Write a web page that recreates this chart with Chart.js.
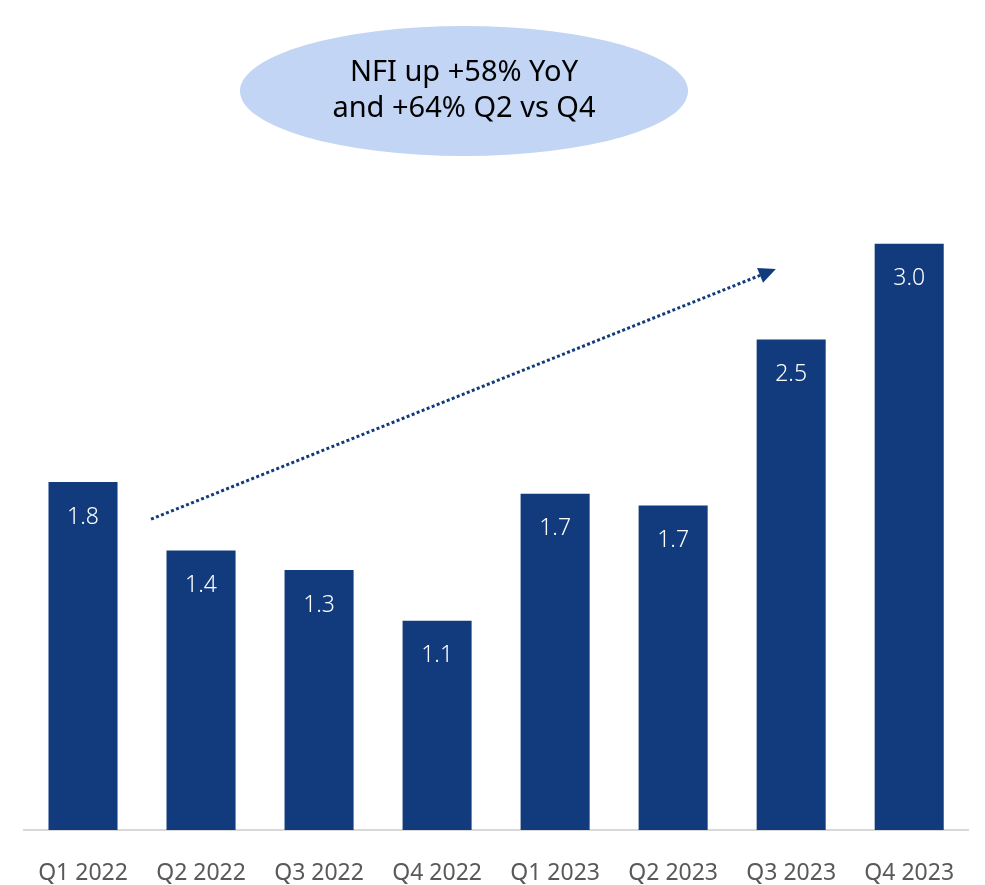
<!DOCTYPE html>
<html>
<head>
<meta charset="utf-8">
<script src="https://cdn.jsdelivr.net/npm/chart.js@4"></script>
<style>
  html, body { margin: 0; padding: 0; background: #fff; }
  #wrap { width: 985px; height: 885px; }
</style>
</head>
<body>
<div id="wrap"><canvas id="nfi"></canvas></div>
<script>
const quarters = ["Q1 2022", "Q2 2022", "Q3 2022", "Q4 2022", "Q1 2023", "Q2 2023", "Q3 2023", "Q4 2023"];
const nfiValues = [1.78, 1.43, 1.33, 1.07, 1.72, 1.66, 2.51, 3.0];
const calloutLines = ["NFI up +58% YoY", "and +64% Q2 vs Q4"];
// trend arrow from / to, in (category index, value)
const arrowFrom = [0.576, 1.59];
const arrowTo = [5.87, 2.87];

const barColor = "#123b7e";
const fontFamily = "'Noto Sans', 'Open Sans', sans-serif";

const annotations = {
  id: "annotations",
  afterDatasetsDraw(chart) {
    const ctx = chart.ctx;
    const xs = chart.scales.x, ys = chart.scales.y;
    const meta = chart.getDatasetMeta(0);

    // value labels inside bars
    ctx.save();
    ctx.fillStyle = "#ffffff";
    ctx.font = "300 23px " + fontFamily;
    ctx.textAlign = "center";
    ctx.textBaseline = "middle";
    meta.data.forEach((bar, i) => {
      ctx.fillText(nfiValues[i].toFixed(1), bar.x, bar.y + 35);
    });
    ctx.restore();

    // dotted trend arrow
    const x1 = xs.getPixelForValue(arrowFrom[0]), y1 = ys.getPixelForValue(arrowFrom[1]);
    const x2 = xs.getPixelForValue(arrowTo[0]), y2 = ys.getPixelForValue(arrowTo[1]);
    const ang = Math.atan2(y2 - y1, x2 - x1);
    const headLen = 17, headW = 8;
    const bx = x2 - headLen * Math.cos(ang), by = y2 - headLen * Math.sin(ang);
    ctx.save();
    ctx.strokeStyle = barColor;
    ctx.lineWidth = 3;
    ctx.setLineDash([3, 2.4]);
    ctx.beginPath();
    ctx.moveTo(x1, y1);
    ctx.lineTo(bx, by);
    ctx.stroke();
    ctx.setLineDash([]);
    ctx.fillStyle = barColor;
    ctx.beginPath();
    ctx.moveTo(x2, y2);
    ctx.lineTo(bx + headW * Math.sin(ang), by - headW * Math.cos(ang));
    ctx.lineTo(bx - headW * Math.sin(ang), by + headW * Math.cos(ang));
    ctx.closePath();
    ctx.fill();
    ctx.restore();

    // callout ellipse
    ctx.save();
    ctx.fillStyle = "#c2d5f4";
    ctx.beginPath();
    ctx.ellipse(464, 91, 224, 65, 0, 0, Math.PI * 2);
    ctx.fill();
    ctx.fillStyle = "#000000";
    ctx.font = "29px " + fontFamily;
    ctx.textAlign = "center";
    ctx.textBaseline = "middle";
    ctx.fillText(calloutLines[0], 464, 73);
    ctx.fillText(calloutLines[1], 464, 109);
    ctx.restore();
  }
};

new Chart(document.getElementById("nfi"), {
  type: "bar",
  data: {
    labels: quarters,
    datasets: [{
      data: nfiValues,
      backgroundColor: barColor,
      barPercentage: 0.585,
      categoryPercentage: 1.0
    }]
  },
  options: {
    responsive: true,
    maintainAspectRatio: false,
    animation: false,
    layout: { padding: { left: 24, right: 15, top: 185, bottom: 0 } },
    plugins: { legend: { display: false }, tooltip: { enabled: false } },
    scales: {
      x: {
        grid: { display: false, drawTicks: false },
        border: { display: true, color: "#d9d9d9", width: 2 },
        ticks: {
          color: "#595959",
          font: { family: fontFamily, size: 23 },
          padding: 30,
          maxRotation: 0
        },
        afterFit(scale) { scale.height = 55; }
      },
      y: {
        display: false,
        min: 0,
        max: 3.3
      }
    }
  },
  plugins: [annotations]
});
</script>
</body>
</html>
